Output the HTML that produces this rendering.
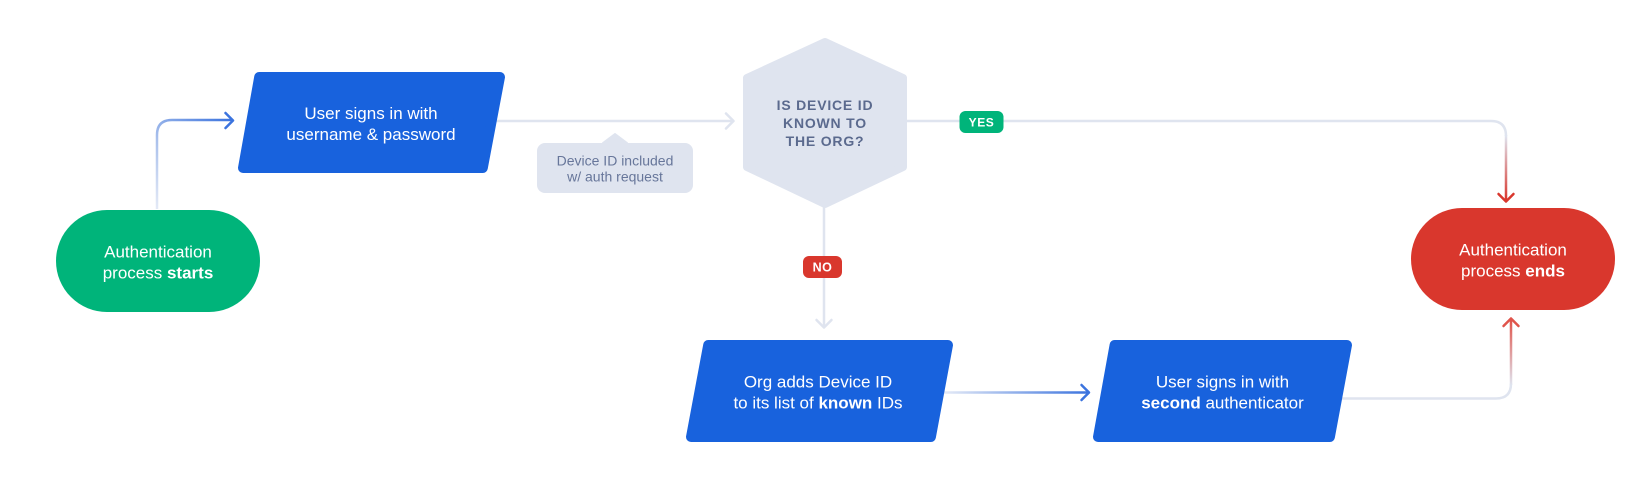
<!DOCTYPE html>
<html>
<head>
<meta charset="utf-8">
<style>
  html, body { margin: 0; padding: 0; background: #ffffff; }
  body { width: 1651px; height: 501px; overflow: hidden; }
  svg { display: block; }
  .t { font-family: "Liberation Sans", Arial, sans-serif; }
</style>
</head>
<body>
<svg width="1651" height="501" viewBox="0 0 1651 501" xmlns="http://www.w3.org/2000/svg">
  <defs>
    <linearGradient id="g1" gradientUnits="userSpaceOnUse" x1="157" y1="208" x2="233" y2="120">
      <stop offset="0" stop-color="#e3e9f6"/>
      <stop offset="0.45" stop-color="#a9c0ec"/>
      <stop offset="1" stop-color="#3b73de"/>
    </linearGradient>
    <linearGradient id="g3" gradientUnits="userSpaceOnUse" x1="0" y1="136" x2="0" y2="200">
      <stop offset="0" stop-color="#dfe4ef"/>
      <stop offset="1" stop-color="#d9372d"/>
    </linearGradient>
    <linearGradient id="g5" gradientUnits="userSpaceOnUse" x1="945" y1="0" x2="1088" y2="0">
      <stop offset="0" stop-color="#e3e9f6"/>
      <stop offset="1" stop-color="#3b73de"/>
    </linearGradient>
    <linearGradient id="g6" gradientUnits="userSpaceOnUse" x1="0" y1="385" x2="0" y2="320">
      <stop offset="0" stop-color="#dfe4ef"/>
      <stop offset="1" stop-color="#e0544b"/>
    </linearGradient>
  </defs>

  <!-- Connectors -->
  <path d="M157 209 V135 Q157 120 172 120 H232" fill="none" stroke="url(#g1)" stroke-width="2.5"/>
  <path d="M225.5 113 L233 120.5 L225.5 128" fill="none" stroke="#3b73de" stroke-width="2.5" stroke-linecap="round" stroke-linejoin="round"/>

  <path d="M490 121 H733" fill="none" stroke="#dfe4ef" stroke-width="2.5"/>
  <path d="M726 113.5 L733.5 121 L726 128.5" fill="none" stroke="#dfe4ef" stroke-width="2.5" stroke-linecap="round" stroke-linejoin="round"/>

  <path d="M900 121 H1491 Q1506 121 1506 136" fill="none" stroke="#dfe4ef" stroke-width="2.5"/>
  <path d="M1506 135 V201" fill="none" stroke="url(#g3)" stroke-width="2.5"/>
  <path d="M1498.5 194 L1506 201.5 L1513.5 194" fill="none" stroke="#d9372d" stroke-width="2.5" stroke-linecap="round" stroke-linejoin="round"/>

  <path d="M824 205 V327" fill="none" stroke="#dfe4ef" stroke-width="2.5"/>
  <path d="M816.5 320 L824 327.5 L831.5 320" fill="none" stroke="#dfe4ef" stroke-width="2.5" stroke-linecap="round" stroke-linejoin="round"/>

  <path d="M940 392.5 H1088" fill="none" stroke="url(#g5)" stroke-width="2.5"/>
  <path d="M1081.5 385 L1089 392.5 L1081.5 400" fill="none" stroke="#3b73de" stroke-width="2.5" stroke-linecap="round" stroke-linejoin="round"/>

  <path d="M1338 398.5 H1496 Q1511 398.5 1511 383.5" fill="none" stroke="#dfe4ef" stroke-width="2.5"/>
  <path d="M1511 385 V319" fill="none" stroke="url(#g6)" stroke-width="2.5"/>
  <path d="M1503.5 326 L1511 318.5 L1518.5 326" fill="none" stroke="#e0544b" stroke-width="2.5" stroke-linecap="round" stroke-linejoin="round"/>

  <!-- Start pill -->
  <rect x="56" y="210" width="204" height="102" rx="51" ry="51" fill="#00b47a"/>
  <text class="t" x="158" y="257.5" text-anchor="middle" font-size="17" fill="#ffffff">Authentication</text>
  <text class="t" x="158" y="278.5" text-anchor="middle" font-size="17" fill="#ffffff">process <tspan font-weight="bold">starts</tspan></text>

  <!-- Box 1 -->
  <polygon points="259.2,77 500,77 482.8,168 243,168" fill="#1862dd" stroke="#1862dd" stroke-width="10" stroke-linejoin="round"/>
  <text class="t" x="371" y="119" text-anchor="middle" font-size="17" fill="#ffffff">User signs in with</text>
  <text class="t" x="371" y="140" text-anchor="middle" font-size="17" fill="#ffffff">username &amp; password</text>

  <!-- Tooltip -->
  <path d="M603 143 L615 134 L627 143 Z" fill="#dfe4ef" stroke="#dfe4ef" stroke-width="2" stroke-linejoin="round"/>
  <rect x="537" y="143" width="156" height="50" rx="8" ry="8" fill="#dfe4ef"/>
  <text class="t" x="615" y="165.5" text-anchor="middle" font-size="14" fill="#67769a">Device ID included</text>
  <text class="t" x="615" y="181.5" text-anchor="middle" font-size="14" fill="#67769a">w/ auth request</text>

  <!-- Hexagon -->
  <polygon points="825,42 903,78 903,167 825,204 747,167 747,78" fill="#dfe4ef" stroke="#dfe4ef" stroke-width="8" stroke-linejoin="round"/>
  <text class="t" x="825" y="110" text-anchor="middle" font-size="14" font-weight="bold" letter-spacing="0.8" fill="#5b6a8e">IS DEVICE ID</text>
  <text class="t" x="825" y="128" text-anchor="middle" font-size="14" font-weight="bold" letter-spacing="0.8" fill="#5b6a8e">KNOWN TO</text>
  <text class="t" x="825" y="146" text-anchor="middle" font-size="14" font-weight="bold" letter-spacing="0.8" fill="#5b6a8e">THE ORG?</text>

  <!-- YES badge -->
  <rect x="959.5" y="111" width="44" height="22" rx="6" ry="6" fill="#00b47a"/>
  <text class="t" x="981.5" y="126.3" text-anchor="middle" font-size="12" font-weight="bold" letter-spacing="0.6" fill="#ffffff">YES</text>

  <!-- NO badge -->
  <rect x="803" y="256" width="39" height="22" rx="6" ry="6" fill="#d9372d"/>
  <text class="t" x="822.5" y="271.3" text-anchor="middle" font-size="12.5" font-weight="bold" letter-spacing="0.5" fill="#ffffff">NO</text>

  <!-- Box 2 -->
  <polygon points="708.2,345 948,345 930.9,437 691,437" fill="#1862dd" stroke="#1862dd" stroke-width="10" stroke-linejoin="round"/>
  <text class="t" x="818" y="387.5" text-anchor="middle" font-size="17" fill="#ffffff">Org adds Device ID</text>
  <text class="t" x="818" y="408.5" text-anchor="middle" font-size="17" fill="#ffffff">to its list of <tspan font-weight="bold">known</tspan> IDs</text>

  <!-- Box 3 -->
  <polygon points="1114.6,345 1347,345 1329.9,437 1098,437" fill="#1862dd" stroke="#1862dd" stroke-width="10" stroke-linejoin="round"/>
  <text class="t" x="1222.5" y="387.5" text-anchor="middle" font-size="17" fill="#ffffff">User signs in with</text>
  <text class="t" x="1222.5" y="408.5" text-anchor="middle" font-size="17" fill="#ffffff"><tspan font-weight="bold">second</tspan> authenticator</text>

  <!-- End pill -->
  <rect x="1411" y="208" width="204" height="102" rx="51" ry="51" fill="#d9372d"/>
  <text class="t" x="1513" y="255.5" text-anchor="middle" font-size="17" fill="#ffffff">Authentication</text>
  <text class="t" x="1513" y="276.5" text-anchor="middle" font-size="17" fill="#ffffff">process <tspan font-weight="bold">ends</tspan></text>
</svg>
</body>
</html>
